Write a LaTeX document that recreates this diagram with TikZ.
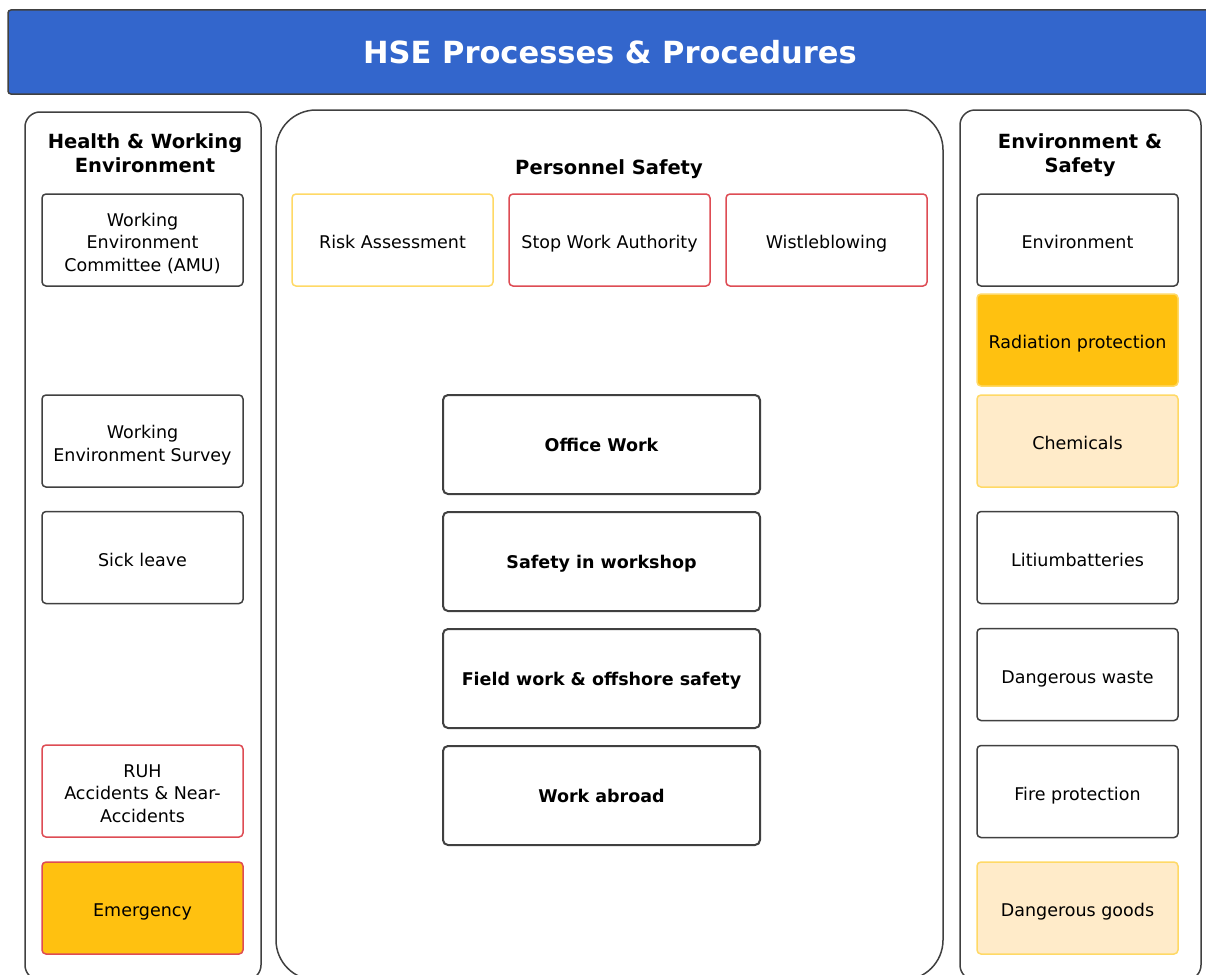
\documentclass[tikz,border=0pt]{standalone}
\usepackage{fontspec}
\setmainfont{DejaVu Sans}
\usetikzlibrary{positioning}
\definecolor{hseblue}{RGB}{51,102,204}
\definecolor{hsered}{RGB}{222,76,84}
\definecolor{hseyellow}{RGB}{255,217,102}
\definecolor{hseorange}{RGB}{255,193,16}
\definecolor{hsecream}{RGB}{255,235,201}
\definecolor{hsegray}{RGB}{64,64,64}
\newcommand{\boxlift}{\rule[-4pt]{0pt}{25pt}}
\newcommand{\boldlift}{\rule[-4pt]{0pt}{21pt}}
\newcommand{\linelift}{\rule{0pt}{21.5pt}}
\tikzset{
    titlebar/.style = {rectangle, rounded corners=3pt, draw=hsegray, line width=1.5pt, fill=hseblue, text=white, minimum width=1204pt, minimum height=84pt, font=\fontsize{30.5}{36}\selectfont\bfseries},
    colbox/.style = {rectangle, rounded corners=15pt, draw=hsegray, line width=1.5pt, fill=white},
    coltitle/.style = {align=center, font=\fontsize{19.5}{24}\selectfont\bfseries},
    boxbase/.style = {rectangle, rounded corners=4pt, draw=hsegray, line width=1.5pt, fill=white, minimum width=201pt, minimum height=92pt, inner sep=2pt, align=center, font=\fontsize{17.5}{22.5}\selectfont},
    boxn/.style = {boxbase, execute at begin node=\boxlift},
    boxr/.style = {boxn, draw=hsered},
    boxy/.style = {boxn, draw=hseyellow},
    boxo/.style = {boxn, fill=hseorange},
    boxc/.style = {boxn, draw=hseyellow, fill=hsecream},
    boxb/.style = {boxbase, line width=2pt, rounded corners=5pt, minimum width=317pt, minimum height=99pt, font=\fontsize{17.5}{22.5}\selectfont\bfseries, execute at begin node=\boldlift}
}
\begin{document}
\begin{tikzpicture}[x=1pt,y=-1pt]
\useasboundingbox (0,0) rectangle (1206,974);
\clip (0,0) rectangle (1206,974);
\node[titlebar] (title) at (610,52) {HSE Processes \& Procedures};
%
\node[colbox, minimum width=236pt, minimum height=868pt] (hwcol) at (143,546) {};
\node[colbox, rounded corners=40pt, minimum width=667pt, minimum height=870pt] (pscol) at (609.5,545) {};
\node[colbox, minimum width=241pt, minimum height=870pt] (escol) at (1080.5,545) {};
%
\node[coltitle] (hwtitle) at (145,153) {Health \& Working\\Environment};
\node[coltitle] (pstitle) at (609,169) {Personnel Safety};
\node[coltitle] (estitle) at (1080,155) {Environment \&\\Safety};
% health & working environment
\node[boxn] (amu) at (142.5,240) {\linelift Working\\Environment\\Committee (AMU)};
\node[boxn] (survey) at (142.5,441) {\linelift Working\\Environment Survey};
\node[boxn] (sick) at (142.5,557.5) {Sick leave};
\node[boxr] (ruh) at (142.5,791) {\linelift RUH\\Accidents \& Near-\\Accidents};
\node[boxo, draw=hsered] (emergency) at (142.5,908) {Emergency};
% personnel safety
\node[boxy] (risk) at (392.5,240) {Risk Assessment};
\node[boxr] (stop) at (609.5,240) {Stop Work Authority};
\node[boxr] (wistle) at (826.5,240) {Wistleblowing};
\node[boxb] (office) at (601.5,444.5) {Office Work};
\node[boxb] (workshop) at (601.5,561.5) {Safety in workshop};
\node[boxb] (field) at (601.5,678.5) {Field work \& offshore safety};
\node[boxb] (abroad) at (601.5,795.5) {Work abroad};
% environment & safety
\node[boxn] (env) at (1077.5,240) {Environment};
\node[boxo, draw=hseyellow] (radiation) at (1077.5,340) {Radiation protection};
\node[boxc] (chemicals) at (1077.5,441) {Chemicals};
\node[boxn] (litium) at (1077.5,557.5) {Litiumbatteries};
\node[boxn] (waste) at (1077.5,674.5) {Dangerous waste};
\node[boxn] (fire) at (1077.5,791.5) {Fire protection};
\node[boxc] (goods) at (1077.5,908) {Dangerous goods};

\end{tikzpicture}
\end{document}
